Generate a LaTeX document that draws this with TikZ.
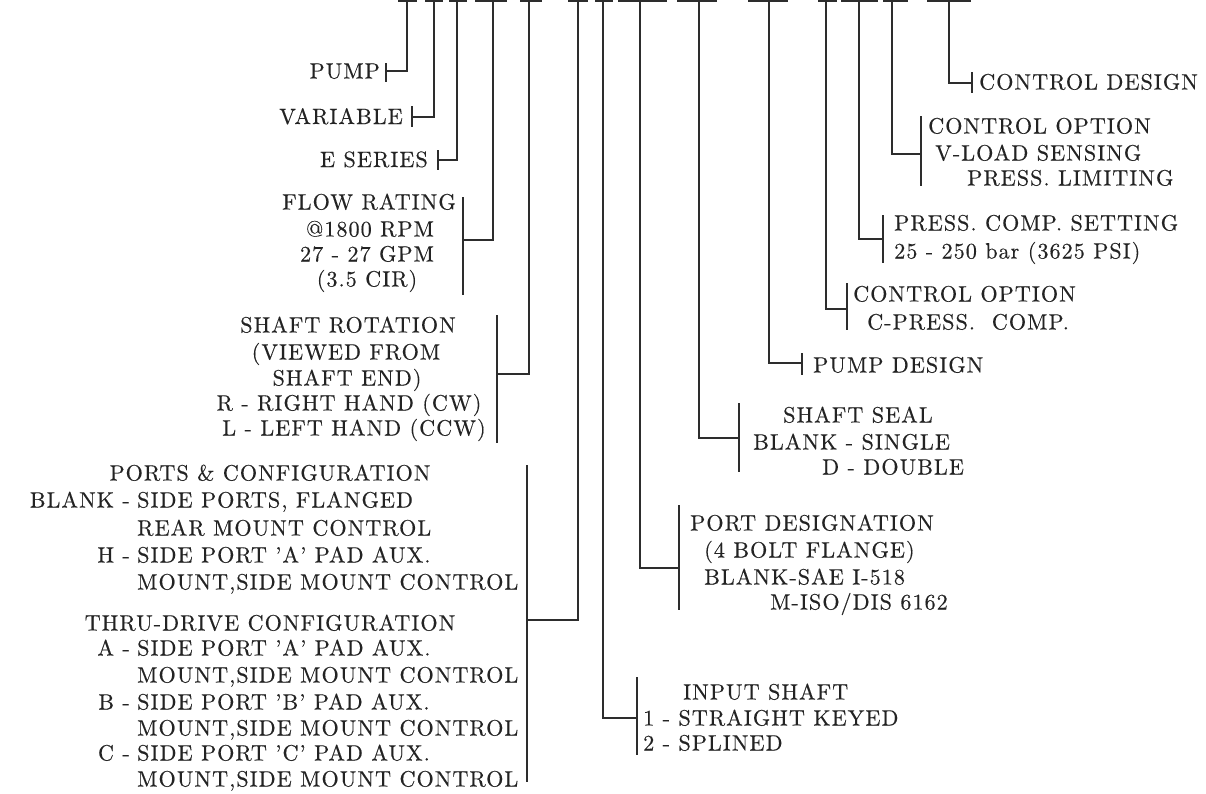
\documentclass[tikz,border=0pt]{standalone}
\usepackage{fontspec}
\setmainfont{lmroman10-regular.otf}[LetterSpace=4.5,FakeBold=0.3]
\definecolor{inkc}{RGB}{35,35,35}
\definecolor{linec}{RGB}{45,45,45}
\tikzset{
  conn/.style={draw=linec, line width=1.5pt},
  topbar/.style={draw=linec, line width=2.4pt},
  brk/.style={draw=linec, line width=1.8pt},
  lbl/.style={inner sep=0pt, font=\fontsize{22.2}{26}\selectfont, text=inkc},
}
\begin{document}
\begin{tikzpicture}[x=1pt,y=-1pt]
\fill[white] (0,0) rectangle (1206,793);
\useasboundingbox (0,0) rectangle (1206,793);

% ---- T connectors and brackets ----
\foreach \n/\x/\a/\b/\jy/\bx/\by/\bz in {
  1/407/398/417/71/386/63/82,
  2/434/425/443/117/412/106/127,
  3/457/449/467/160/438/150/170,
  4/493/475/507/240/463/197/295,
  5/529/520/542/374/497/315/443,
  6/578/568/588/620/527/465/782,
  7/603/595/613/718/637/677/755,
  8/640/618/667/568/679/505/610,
  9/699/677/717/438/739/403/472,
  10/769/748/788/363/802/353/375,
  11/826/818/837/309/847/283/330,
  12/859/841/878/239/883/215/263,
  13/892/883/908/154/921/116/186,
  14/949/927/971/83/972/72/93}{
  \coordinate (t\n) at (\x,0.8);
  \coordinate (j\n) at (\bx,\jy);
  \coordinate (bt\n) at (\bx,\by);
  \coordinate (bb\n) at (\bx,\bz);
  \draw[topbar] (\a,0.8) -- (\b,0.8);
  \draw[conn] (t\n) |- (j\n);
  \draw[brk] (bt\n) -- (bb\n);
}

% ---- left labels ----
\node[lbl,anchor=base east] (pump) at (380,78.5) {PUMP};
\node[lbl,anchor=base east] (var) at (403,124) {VARIABLE};
\node[lbl,anchor=base east] (eser) at (428,167) {E SERIES};

\node[lbl,anchor=base] (fr1) at (369,209.5) {FLOW RATING};
\node[lbl,anchor=base] (fr2) at (370,236.5) {@1800 RPM};
\node[lbl,anchor=base] (fr3) at (367,261.5) {27 - 27 GPM};
\node[lbl,anchor=base] (fr4) at (367,286.5) {(3.5 CIR)};

\node[lbl,anchor=base] (sr1) at (348,332.5) {SHAFT ROTATION};
\node[lbl,anchor=base] (sr2) at (346,359.5) {(VIEWED FROM};
\node[lbl,anchor=base] (sr3) at (347,385.5) {SHAFT END)};
\node[lbl,anchor=base] (sr4) at (349,410.5) {R - RIGHT HAND (CW)};
\node[lbl,anchor=base] (sr5) at (354,435.5) {L - LEFT HAND (CCW)};

\node[lbl,anchor=base] (pc0) at (270,480.5) {PORTS \& CONFIGURATION};
\node[lbl,anchor=base east] (pcl1) at (130,507.5) {BLANK -};
\node[lbl,anchor=base west] (pc1) at (137,507.5) {SIDE PORTS, FLANGED};
\node[lbl,anchor=base west] (pc2) at (137,535.5) {REAR MOUNT CONTROL};
\node[lbl,anchor=base east] (pcl3) at (130,562.5) {H -};
\node[lbl,anchor=base west] (pc3) at (137,562.5) {SIDE PORT 'A' PAD AUX.};
\node[lbl,anchor=base west] (pc4) at (137,589.5) {MOUNT,SIDE MOUNT CONTROL};

\node[lbl,anchor=base] (td0) at (270,630.5) {THRU-DRIVE CONFIGURATION};
\node[lbl,anchor=base east] (tdl1) at (130,655.5) {A -};
\node[lbl,anchor=base west] (td1) at (137,655.5) {SIDE PORT 'A' PAD AUX.};
\node[lbl,anchor=base west] (td2) at (137,682.5) {MOUNT,SIDE MOUNT CONTROL};
\node[lbl,anchor=base east] (tdl3) at (130,709.5) {B -};
\node[lbl,anchor=base west] (td3) at (137,709.5) {SIDE PORT 'B' PAD AUX.};
\node[lbl,anchor=base west] (td4) at (137,735.5) {MOUNT,SIDE MOUNT CONTROL};
\node[lbl,anchor=base east] (tdl5) at (130,760.5) {C -};
\node[lbl,anchor=base west] (td5) at (137,760.5) {SIDE PORT 'C' PAD AUX.};
\node[lbl,anchor=base west] (td6) at (137,786.5) {MOUNT,SIDE MOUNT CONTROL};

% ---- right labels ----
\node[lbl,anchor=base west] (cd) at (979,89.5) {CONTROL DESIGN};
\node[lbl,anchor=base west] (cv1) at (928,133.5) {CONTROL OPTION};
\node[lbl,anchor=base west] (cv2) at (935,160.5) {V-LOAD SENSING};
\node[lbl,anchor=base west] (cv3) at (967,185.5) {PRESS. LIMITING};
\node[lbl,anchor=base west] (ps1) at (894,230.5) {PRESS. COMP. SETTING};
\node[lbl,anchor=base west] (ps2) at (894,258.5) {25 - 250 bar (3625 PSI)};
\node[lbl,anchor=base west] (cc1) at (853,301.5) {CONTROL OPTION};
\node[lbl,anchor=base west] (cc2) at (867,329.5) {C-PRESS.\ \ COMP.};
\node[lbl,anchor=base west] (pd) at (813,372.5) {PUMP DESIGN};
\node[lbl,anchor=base west] (ss1) at (783,422.5) {SHAFT SEAL};
\node[lbl,anchor=base west] (ss2) at (753,449.5) {BLANK - SINGLE};
\node[lbl,anchor=base west] (ss3) at (822,474.5) {D - DOUBLE};
\node[lbl,anchor=base west] (pg1) at (690,530.5) {PORT DESIGNATION};
\node[lbl,anchor=base west] (pg2) at (704,557.5) {(4 BOLT FLANGE)};
\node[lbl,anchor=base west] (pg3) at (704,584.5) {BLANK-SAE I-518};
\node[lbl,anchor=base west] (pg4) at (770,609.5) {M-ISO/DIS 6162};
\node[lbl,anchor=base west] (is1) at (683,699.5) {INPUT SHAFT};
\node[lbl,anchor=base west] (is2) at (643,725.5) {1 - STRAIGHT KEYED};
\node[lbl,anchor=base west] (is3) at (643,750.5) {2 - SPLINED};
\end{tikzpicture}
\end{document}
